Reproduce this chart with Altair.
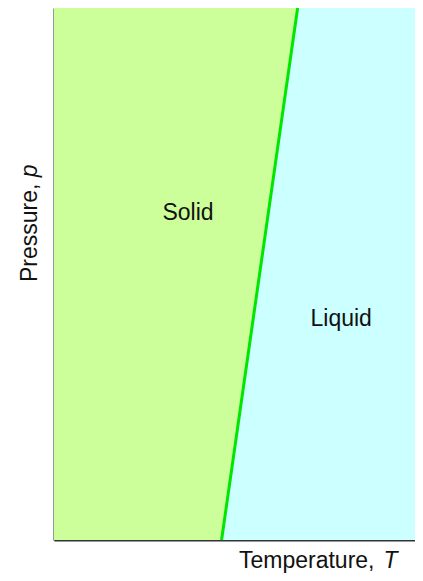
import altair as alt
import pandas as pd

# Data (T and p in % of the axis range)
pressure = [0, 100]
melting_T = [45.4, 66.0]      # solid/liquid boundary
T_min = [0, 0]
T_max = [100, 100]

phase_names = ["Solid", "Liquid"]
phase_T = [36.3, 77.8]
phase_p = [61.5, 41.5]

x_title = ["Temperature, ", "T"]
y_title = ["Pressure, ", "p"]

FONT = "Liberation Sans"
FS = 23

df = pd.DataFrame({"p": pressure, "melt": melting_T, "tmin": T_min, "tmax": T_max})
labels = pd.DataFrame({"name": phase_names, "T": phase_T, "p": phase_p})

# the page leaves an 8px right margin, so the visible window ends a bit before T=100
xs = alt.Scale(domain=[0, 97.8], nice=False, zero=False)
ys = alt.Scale(domain=[0, 100], nice=False, zero=False)
ax = alt.Axis(title=None, ticks=False, labels=False, grid=False,
              domainColor="#333333", domainWidth=2)

base = alt.Chart(df)

solid = base.mark_area(color="#ccff99", orient="horizontal", clip=True).encode(
    y=alt.Y("p:Q", scale=ys, axis=ax),
    x=alt.X("tmin:Q", scale=xs, axis=ax),
    x2="melt:Q",
)
liquid = base.mark_area(color="#ccffff", orient="horizontal", clip=True).encode(
    y=alt.Y("p:Q", scale=ys),
    x=alt.X("melt:Q", scale=xs),
    x2="tmax:Q",
)
line = base.mark_line(color="#00e600", strokeWidth=3).encode(
    x=alt.X("melt:Q", scale=xs),
    y=alt.Y("p:Q", scale=ys),
)
text = alt.Chart(labels).mark_text(font=FONT, fontSize=FS, color="#111111",
                                   baseline="middle", align="center").encode(
    x=alt.X("T:Q", scale=xs),
    y=alt.Y("p:Q", scale=ys),
    text="name:N",
)

XT_Y = 560
xt1 = alt.Chart(pd.DataFrame({"t": [x_title[0]]})).mark_text(
    font=FONT, fontSize=FS, color="#111111", align="left", baseline="alphabetic"
).encode(x=alt.value(185), y=alt.value(XT_Y), text="t:N")
xt2 = alt.Chart(pd.DataFrame({"t": [x_title[1]]})).mark_text(
    font=FONT, fontSize=FS, fontStyle="italic", color="#111111", align="left", baseline="alphabetic"
).encode(x=alt.value(329.5), y=alt.value(XT_Y), text="t:N")

yt1 = alt.Chart(pd.DataFrame({"t": [y_title[0]]})).mark_text(
    font=FONT, fontSize=FS, color="#111111", align="left", baseline="alphabetic", angle=270
).encode(x=alt.value(-17.5), y=alt.value(274), text="t:N")
yt2 = alt.Chart(pd.DataFrame({"t": [y_title[1]]})).mark_text(
    font=FONT, fontSize=FS, fontStyle="italic", color="#111111", align="left", baseline="alphabetic", angle=270
).encode(x=alt.value(-17.5), y=alt.value(169.2), text="t:N")

chart = alt.layer(solid, liquid, line, text, xt1, xt2, yt1, yt2).properties(
    width=361, height=532,
    autosize=alt.AutoSizeParams(type="none"),
    padding={"left": 46, "top": 0, "right": 0, "bottom": 33},
).configure_view(stroke=None).configure(background="white")

chart.save("out.html", embed_options={"renderer": "svg", "actions": False})
